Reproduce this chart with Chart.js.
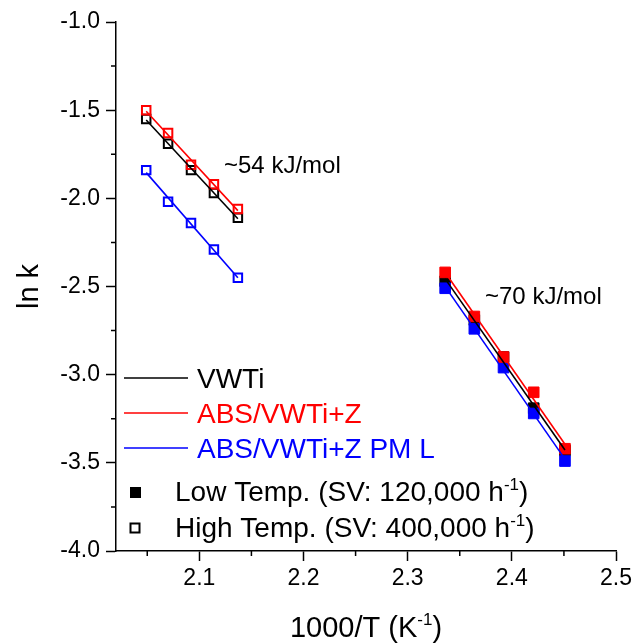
<!DOCTYPE html>
<html>
<head>
<meta charset="utf-8">
<title>ln k vs 1000/T</title>
<script src="https://cdn.jsdelivr.net/npm/chart.js@4.4.0/dist/chart.umd.min.js"></script>
<style>
  html, body { margin: 0; padding: 0; background: #fff; }
  #wrap { width: 636px; height: 644px; }
</style>
</head>
<body>
<div id="wrap"><canvas id="arrhenius" width="636" height="644"></canvas></div>
<script>
// x values (1000/T) for the two temperature windows
const highX = [2.049, 2.070, 2.092, 2.114, 2.137];
const lowX  = [2.336, 2.364, 2.392, 2.421, 2.451];

// ln k, high temperature (open squares)
const vwtiHigh = [-1.55, -1.69, -1.84, -1.97, -2.11];
const absHigh  = [-1.50, -1.63, -1.81, -1.92, -2.06];
const pmHigh   = [-1.84, -2.02, -2.14, -2.29, -2.45];

// ln k, low temperature (filled squares)
const vwtiLow = [-2.47, -2.69, -2.90, -3.19, -3.43];
const absLow  = [-2.42, -2.67, -2.90, -3.10, -3.42];
const pmLow   = [-2.51, -2.74, -2.96, -3.22, -3.49];

const xTicks = [2.1, 2.2, 2.3, 2.4, 2.5];
const xMinor = [2.05, 2.15, 2.25, 2.35, 2.45];
const yTicks = [-1.0, -1.5, -2.0, -2.5, -3.0, -3.5, -4.0];
const yMinor = [-1.25, -1.75, -2.25, -2.75, -3.25, -3.75];

const seriesNames = ['VWTi', 'ABS/VWTi+Z', 'ABS/VWTi+Z PM L'];
const lowLabel = 'Low Temp. (SV: 120,000 h';
const highLabel = 'High Temp. (SV: 400,000 h';
const energyLabels = ['~54 kJ/mol', '~70 kJ/mol'];

const COLORS = ['#000000', '#ff0000', '#0000ff'];
const FONT = 'Arial, "Liberation Sans", Helvetica, sans-serif';

// least squares line, returned as its two end points
function linFit(xs, ys) {
    const n = xs.length;
    const mx = xs.reduce((a, b) => a + b, 0) / n;
    const my = ys.reduce((a, b) => a + b, 0) / n;
    let sxy = 0, sxx = 0;
    xs.forEach((x, i) => {
        sxy += (x - mx) * (ys[i] - my);
        sxx += (x - mx) * (x - mx);
    });
    const slope = sxy / sxx;
    const icpt = my - slope * mx;
    return [
        { x: xs[0], y: icpt + slope * xs[0] },
        { x: xs[n - 1], y: icpt + slope * xs[n - 1] }
    ];
}

const toPts = (xs, ys) => xs.map((x, i) => ({ x: x, y: ys[i] }));

const highSets = [vwtiHigh, absHigh, pmHigh];
const lowSets = [vwtiLow, absLow, pmLow];
const pointOrder = [5, 3, 4];   // red and blue squares sit over black ones
const datasets = [];

highSets.forEach((ys, i) => {
    datasets.push({
        label: seriesNames[i] + ' high',
        data: toPts(highX, ys),
        showLine: false,
        pointStyle: 'rect',
        pointRadius: 6,
        pointHoverRadius: 6,
        pointBorderWidth: 2,
        pointBorderColor: COLORS[i],
        pointBackgroundColor: 'rgba(255,255,255,0)',
        order: pointOrder[i]
    });
});
lowSets.forEach((ys, i) => {
    datasets.push({
        label: seriesNames[i] + ' low',
        data: toPts(lowX, ys),
        showLine: false,
        pointStyle: 'rect',
        pointRadius: 7.5,
        pointHoverRadius: 7.5,
        pointBorderWidth: 1,
        pointBorderColor: COLORS[i],
        pointBackgroundColor: COLORS[i],
        order: pointOrder[i]
    });
});
// fitted lines, drawn over the squares
[highSets, lowSets].forEach((sets, k) => {
    const xs = k === 0 ? highX : lowX;
    sets.forEach((ys, i) => {
        datasets.push({
            label: seriesNames[i] + ' fit',
            data: linFit(xs, ys),
            showLine: true,
            borderColor: COLORS[i],
            borderWidth: 1.6,
            pointRadius: 0,
            pointHoverRadius: 0,
            order: i
        });
    });
});

// text with a raised "-1"
function drawSupText(ctx, x, y, main, size, color, align) {
    const supSize = Math.round(size * 0.6);
    ctx.font = size + 'px ' + FONT;
    const w1 = ctx.measureText(main).width;
    const w3 = ctx.measureText(')').width;
    ctx.font = supSize + 'px ' + FONT;
    const w2 = ctx.measureText('-1').width;
    let x0 = x;
    if (align === 'center') x0 = x - (w1 + w2 + w3) / 2;
    ctx.fillStyle = color;
    ctx.textAlign = 'left';
    ctx.textBaseline = 'alphabetic';
    ctx.font = size + 'px ' + FONT;
    ctx.fillText(main, x0, y);
    ctx.font = supSize + 'px ' + FONT;
    ctx.fillText('-1', x0 + w1, y - size * 0.4);
    ctx.font = size + 'px ' + FONT;
    ctx.fillText(')', x0 + w1 + w2, y);
}

const minorTicks = {
    id: 'minorTicks',
    afterDraw(chart) {
        const { ctx, scales: { x, y } } = chart;
        ctx.save();
        ctx.strokeStyle = '#000';
        ctx.lineWidth = 1.5;
        ctx.beginPath();
        xMinor.forEach(v => {
            const px = x.getPixelForValue(v);
            ctx.moveTo(px, x.top);
            ctx.lineTo(px, x.top + 5);
        });
        yMinor.forEach(v => {
            const py = y.getPixelForValue(v);
            ctx.moveTo(y.right, py);
            ctx.lineTo(y.right - 5, py);
        });
        ctx.stroke();
        ctx.restore();
    }
};

const labelsPlugin = {
    id: 'labelsPlugin',
    afterDraw(chart) {
        const { ctx, chartArea } = chart;
        ctx.save();

        // axis titles
        ctx.fillStyle = '#000';
        ctx.font = '29px ' + FONT;
        ctx.textAlign = 'center';
        ctx.textBaseline = 'alphabetic';
        ctx.save();
        ctx.translate(38, (chartArea.top + chartArea.bottom) / 2);
        ctx.rotate(-Math.PI / 2);
        ctx.fillText('ln k', 0, 0);
        ctx.restore();
        drawSupText(ctx, (chartArea.left + chartArea.right) / 2, 637, '1000/T (K', 29, '#000', 'center');

        // activation energy notes
        ctx.font = '24px ' + FONT;
        ctx.textAlign = 'left';
        ctx.fillStyle = '#000';
        ctx.fillText(energyLabels[0], 224, 173);
        ctx.fillText(energyLabels[1], 485, 304);

        // legend: fitted lines
        const rows = [378, 413, 448];
        ctx.lineWidth = 1.6;
        seriesNames.forEach((name, i) => {
            ctx.strokeStyle = COLORS[i];
            ctx.beginPath();
            ctx.moveTo(124, rows[i]);
            ctx.lineTo(188, rows[i]);
            ctx.stroke();
            ctx.fillStyle = COLORS[i];
            ctx.font = '28px ' + FONT;
            ctx.fillText(name, 197, rows[i] + 10);
        });

        // legend: symbols
        ctx.fillStyle = '#000';
        ctx.fillRect(130, 487, 11, 11);
        ctx.strokeStyle = '#000';
        ctx.lineWidth = 2;
        ctx.strokeRect(130.5, 523.5, 9, 9);
        drawSupText(ctx, 175, 501, lowLabel, 28, '#000', 'left');
        drawSupText(ctx, 175, 537, highLabel, 28, '#000', 'left');

        ctx.restore();
    }
};

new Chart(document.getElementById('arrhenius'), {
    type: 'scatter',
    data: { datasets: datasets },
    options: {
        responsive: false,
        animation: false,
        events: [],
        layout: { padding: { top: 22, right: 18, left: 0, bottom: 0 } },
        plugins: {
            legend: { display: false },
            tooltip: { enabled: false }
        },
        scales: {
            x: {
                type: 'linear',
                min: 2.02,
                max: 2.5,
                afterBuildTicks: s => { s.ticks = xTicks.map(v => ({ value: v })); },
                afterFit: s => { s.height = 93; },
                ticks: {
                    color: '#000',
                    font: { size: 23, family: FONT },
                    padding: 4,
                    maxRotation: 0,
                    autoSkip: false,
                    callback: v => v.toFixed(1)
                },
                grid: {
                    drawOnChartArea: false,
                    drawTicks: true,
                    tickLength: 10,
                    tickColor: '#000',
                    tickWidth: 1.5
                },
                border: { display: true, color: '#000', width: 1.5 }
            },
            y: {
                type: 'linear',
                min: -4,
                max: -1,
                afterBuildTicks: s => { s.ticks = yTicks.map(v => ({ value: v })); },
                afterFit: s => { s.width = 116; },
                ticks: {
                    color: '#000',
                    font: { size: 23, family: FONT },
                    padding: 6,
                    autoSkip: false,
                    callback: v => v.toFixed(1)
                },
                grid: {
                    drawOnChartArea: false,
                    drawTicks: true,
                    tickLength: 10,
                    tickColor: '#000',
                    tickWidth: 1.5
                },
                border: { display: true, color: '#000', width: 1.5 }
            }
        }
    },
    plugins: [minorTicks, labelsPlugin]
});
</script>
</body>
</html>
